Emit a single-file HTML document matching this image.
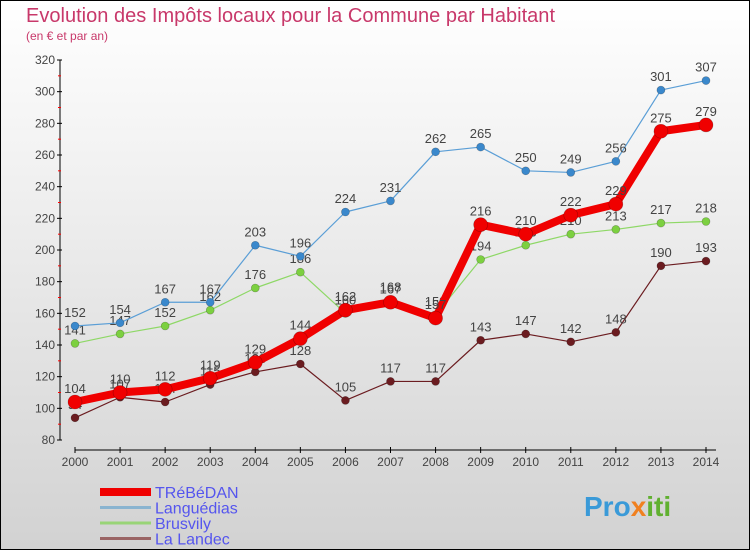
<!DOCTYPE html>
<html><head><meta charset="utf-8"><style>
body{margin:0;}
#wrap{position:relative;width:750px;height:550px;}
svg{display:block;font-family:"Liberation Sans",sans-serif;}
</style></head><body>
<div id="wrap">
<svg id="c" width="750" height="550">
<defs><linearGradient id="bg" x1="0" y1="0" x2="0" y2="1"><stop offset="0" stop-color="#ffffff"/><stop offset="1" stop-color="#d2d2d2"/></linearGradient></defs>
<rect x="0.5" y="0.5" width="749" height="549" fill="url(#bg)" stroke="#000"/>
<text x="26" y="22" font-size="20" fill="#c8386a" textLength="529">Evolution des Impôts locaux pour la Commune par Habitant</text>
<text x="26" y="40" font-size="12" fill="#c8386a">(en € et par an)</text>
<g id="axes"></g><g id="series"></g><g id="legend"></g>
<text x="584" y="516" font-size="28" font-weight="bold" fill="#3a9ad8">Pro<tspan fill="#f08020">x</tspan><tspan fill="#60b030">iti</tspan></text>
</svg></div>
<script>
const years=[2000,2001,2002,2003,2004,2005,2006,2007,2008,2009,2010,2011,2012,2013,2014];
const treb=[104,110,112,119,129,144,162,167,157,216,210,222,229,275,279];
const lang=[152,154,167,167,203,196,224,231,262,265,250,249,256,301,307];
const brus=[141,147,152,162,176,186,160,168,159,194,203,210,213,217,218];
const land=[94,107,104,115,123,128,105,117,117,143,147,142,148,190,193];
const yTicks=[80,100,120,140,160,180,200,220,240,260,280,300,320];
const NS='http://www.w3.org/2000/svg';
const xS=i=>75+i*(631/14);
const yS=v=>440-(v-80)*380/240;
function mk(p,t,a){const e=document.createElementNS(NS,t);for(const k in a)e.setAttribute(k,a[k]);p.appendChild(e);return e;}
const ax=document.getElementById('axes');
let l=mk(ax,'line',{x1:60,y1:60,x2:60,y2:440,stroke:'#000'});


yTicks.forEach((v,i)=>{
 mk(ax,'line',{x1:57,y1:yS(v),x2:62,y2:yS(v),stroke:'#000'});
 if(i<yTicks.length-1){mk(ax,'line',{x1:58,y1:yS(v+10),x2:61,y2:yS(v+10),stroke:'#f00'});}
 const t=mk(ax,'text',{x:55,y:yS(v)+4,'font-size':12,'text-anchor':'end',fill:'#444'});
 t.textContent=v;
 
 
});
l=mk(ax,'line',{x1:75,y1:450,x2:716,y2:450,stroke:'#000'});


years.forEach((y,i)=>{
 mk(ax,'line',{x1:xS(i),y1:447,x2:xS(i),y2:453,stroke:'#000'});
 const t=mk(ax,'text',{x:xS(i),y:466,'font-size':12,'text-anchor':'middle',fill:'#444'});
 t.textContent=y;
 
 
});
const sg=document.getElementById('series');
const ser=[
 {d:land,c:'#6b1c20',w:1.2,r:4,n:'la-landec'},
 {d:brus,c:'#8ed866',w:1.2,r:4,n:'brusvily',fc:'#7cd040'},
 {d:lang,c:'#5a9ed6',w:1.2,r:4,n:'languedias',fc:'#3a88cc'},
 {d:treb,c:'#f00000',w:8,r:7,n:'trebedan'}];
ser.forEach(s=>{
 const g=mk(sg,'g',{});
 
 
 mk(g,'polyline',{points:s.d.map((v,i)=>xS(i)+','+yS(v)).join(' '),fill:'none',stroke:s.c,'stroke-width':s.w,'stroke-linejoin':'round'});
 s.d.forEach((v,i)=>{
  const p=mk(g,'circle',{cx:xS(i),cy:yS(v),r:s.r,fill:s.fc||s.c,stroke:'rgba(0,0,0,0.3)','stroke-width':0.6});
  
  
  const t=mk(g,'text',{x:xS(i),y:yS(v)-9,'font-size':13,'text-anchor':'middle',fill:'#444'});
  t.textContent=v;
  
  
 });
});
const lg=document.getElementById('legend');
const legs=[['TRéBéDAN','#f00000',8],['Languédias','#8ab4d0',3],['Brusvily','#99d477',3],['La Landec','#9a6464',3]];
legs.forEach((a,i)=>{
 const y=492+i*15.5;
 const g=mk(lg,'g',{});
 
 
 mk(g,'line',{x1:100,y1:y,x2:151,y2:y,stroke:a[1],'stroke-width':a[2]});
 const t=mk(g,'text',{x:155,y:y+6,'font-size':16,fill:'#5555ee'});
 t.textContent=a[0];
});
</script></body></html>
